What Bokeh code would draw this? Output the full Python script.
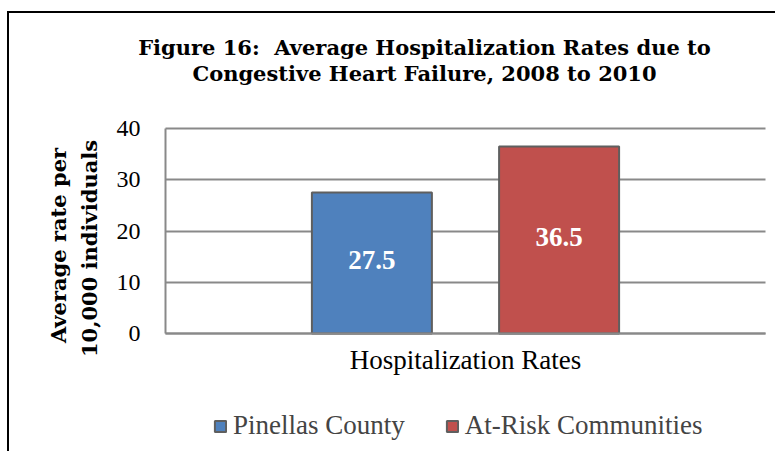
import math
from bokeh.plotting import figure
from bokeh.models import (Range1d, ColumnDataSource, Legend, LegendItem, Label, FixedTicker)
from bokeh.transform import dodge
from bokeh.core.properties import value
from bokeh.embed import file_html
from bokeh.resources import INLINE

# ---- data ----
categories = ["Hospitalization Rates"]
series_names = ["Pinellas County", "At-Risk Communities"]
pinellas = [27.5]
at_risk = [36.5]
y_ticks = [0, 10, 20, 30, 40]
title_lines = ["Figure 16:\u00a0 Average Hospitalization Rates due to",
               "Congestive Heart Failure, 2008 to 2010"]
y_title_lines = ["Average rate per", "10,000 individuals"]

colors = ["#4F81BD", "#C0504D"]
GRID = "#898989"
SERIF = "Liberation Serif"
BOLD = "DejaVu Serif"

# ---- layout (canvas pixels) ----
W, H = 768, 440
PL, PR, PT, PB = 156, 756, 115, 320          # plot-area edges
Y0, Y1 = y_ticks[0], y_ticks[-1]
X0, X1 = 0, len(categories)
ppx = (PR - PL) / (X1 - X0)
ppy = (PB - PT) / (Y1 - Y0)


def dx(px):
    return X0 + (px - PL) / ppx


def dy(py):
    return Y0 + (PB - py) / ppy


p = figure(x_range=Range1d(dx(0), dx(W)), y_range=Range1d(dy(H), dy(0)),
           width=W, height=H, output_backend="svg", toolbar_location=None,
           min_border=0)
p.styles = {"border-top": "2px solid black", "border-left": "2px solid black",
            "margin-top": "11px", "margin-left": "7px"}
p.outline_line_color = None
p.background_fill_color = "white"
p.border_fill_color = "white"

# ---- axes drawn at the plot-area edges ----
cat_pos = [i + 0.5 for i in range(len(categories))]
p.xaxis.fixed_location = Y0
p.xaxis.bounds = (X0, X1)
p.xaxis.ticker = FixedTicker(ticks=cat_pos)
p.xaxis.major_label_overrides = {x: c for x, c in zip(cat_pos, categories)}
p.xaxis.major_tick_out = 0
p.xaxis.major_tick_in = 0
p.xaxis.major_tick_line_color = None
p.xaxis.minor_tick_line_color = None
p.xaxis.axis_line_color = GRID
p.xaxis.axis_line_width = 2
p.xaxis.major_label_standoff = 11
p.xaxis.major_label_text_font = SERIF
p.xaxis.major_label_text_font_size = "27px"
p.xaxis.major_label_text_color = "black"

p.yaxis.fixed_location = X0
p.yaxis.bounds = (Y0, Y1)
p.yaxis.ticker = FixedTicker(ticks=y_ticks)
p.yaxis.major_tick_out = 0
p.yaxis.major_tick_in = 0
p.yaxis.minor_tick_line_color = None
p.yaxis.major_label_standoff = 25
p.yaxis.axis_line_color = GRID
p.yaxis.axis_line_width = 2
p.yaxis.major_label_text_font = SERIF
p.yaxis.major_label_text_font_size = "24px"
p.yaxis.major_label_text_color = "black"

p.xgrid.visible = False
ygrid = p.ygrid[0]
ygrid.ticker = FixedTicker(ticks=y_ticks)
ygrid.bounds = (Y0, Y1)
if "cross_bounds" in ygrid.properties():
    ygrid.cross_bounds = (X0, X1)
    ygrid.grid_line_color = GRID
    ygrid.grid_line_width = 2
else:
    ygrid.visible = False
    p.segment(x0=[X0] * len(y_ticks), x1=[X1] * len(y_ticks), y0=y_ticks, y1=y_ticks,
              line_color=GRID, line_width=2)

# ---- bars and value labels ----
renderers = []
for vals, off, col in [(pinellas, -0.156, colors[0]), (at_risk, 0.156, colors[1])]:
    src = ColumnDataSource(dict(x=cat_pos, val=vals,
                                mid=[v / 2 for v in vals],
                                lbl=[f"{v:.1f}" for v in vals]))
    r = p.vbar(x=dodge("x", off), top="val", width=0.2, bottom=Y0,
               source=src, fill_color=col, line_color="#5f5f5f", line_width=2)
    p.text(x=dodge("x", off), y="mid", text="lbl", source=src,
           text_align="center", text_baseline="middle", text_color="white",
           text_font=value(SERIF), text_font_style="bold",
           text_font_size="27px", y_offset=-3)
    renderers.append(r)

# ---- legend ----
legend = Legend(items=[LegendItem(label=n, renderers=[r]) for n, r in zip(series_names, renderers)],
                orientation="horizontal", location=(204, H - 428),
                glyph_width=14, glyph_height=14, label_standoff=6, spacing=40,
                padding=0, margin=0, border_line_color=None,
                background_fill_alpha=0,
                label_text_font=SERIF, label_text_font_size="27px")
p.add_layout(legend)

# ---- chart title ----
for line, by in zip(title_lines, [34, 60]):
    p.add_layout(Label(x=dx(415), y=dy(by), text=line,
                       text_align="center", text_baseline="alphabetic",
                       text_font=BOLD, text_font_style="bold",
                       text_font_size="21px", text_color="black"))

# ---- y-axis title (two rotated lines) ----
for line, bx, cy in zip(y_title_lines, [48.5, 79.5], [232, 235]):
    p.add_layout(Label(x=dx(bx), y=dy(cy), angle=math.pi / 2, text=line,
                       text_align="center", text_baseline="alphabetic",
                       text_font=BOLD, text_font_style="bold",
                       text_font_size="21px", text_color="black"))

open("out.html", "w").write(file_html(p, INLINE))
